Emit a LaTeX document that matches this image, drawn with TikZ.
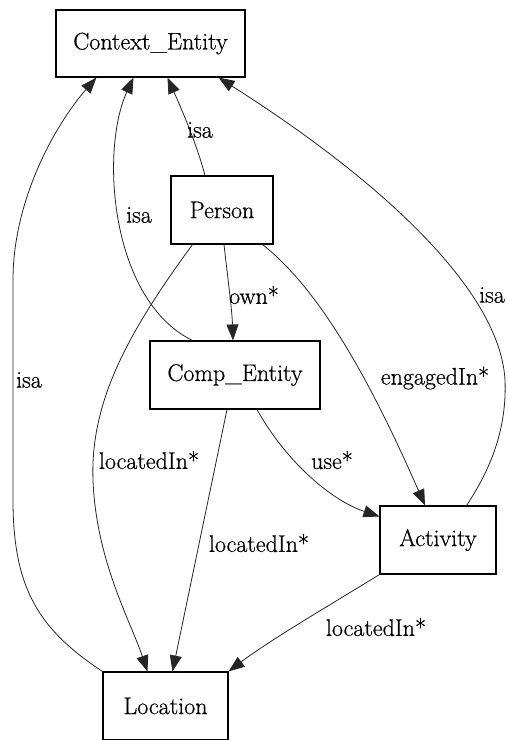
\documentclass[tikz,border=0pt]{standalone}
\usepackage{fontspec}
\setmainfont{Latin Modern Roman}[UprightFeatures={FakeBold=0.6}]
\usetikzlibrary{arrows.meta,calc}

\tikzset{
  entity/.style={draw=black, line width=1.1pt, inner sep=0pt,
    font=\fontsize{24}{29}\selectfont},
  rel/.style={draw=black!85, line width=0.8pt,
    -{Triangle[length=16pt,width=12pt]}},
  tag/.style={inner sep=0pt, font=\fontsize{24}{29}\selectfont}
}

\begin{document}
\begin{tikzpicture}[x=1pt,y=-1pt]
  \useasboundingbox[fill=white] (0,0) rectangle (507,740);

  % entities
  \node[entity, minimum width=189pt, minimum height=67pt] (ctx)  at (150.5,43.5) {Context\_Entity};
  \node[entity, minimum width=102pt, minimum height=68pt] (pers) at (222,210)   {Person};
  \node[entity, minimum width=170pt, minimum height=68pt] (comp) at (235,375)   {Comp\_Entity};
  \node[entity, minimum width=116pt, minimum height=68pt] (act)  at (438,540)   {Activity};
  \node[entity, minimum width=125pt, minimum height=68pt] (loc)  at (165.5,706) {Location};

  % isa links
  \draw[rel] ($(pers.north)+(-17,0)$) .. controls (197,145) and (182,110) .. ($(ctx.south)+(17,0)$);
  \draw[rel] ($(comp.north west)+(43,0)$) .. controls (110,300) and (100,150) .. ($(ctx.south)+(-17,0)$);
  \draw[rel] (loc.north west) .. controls (40,630) and (13,590) .. (13,500)
             -- (13,280) .. controls (13,200) and (55,125) .. ($(ctx.south west)+(41,0)$);
  \draw[rel] ($(act.north east)+(-30,0)$) .. controls (490,470) and (507,430) .. (505,380)
             .. controls (500,290) and (380,180) .. ($(ctx.south east)+(-27,0)$);

  % other relations
  \draw[rel] ($(pers.south)+(2,0)$) .. controls (228,280) and (232,310) .. ($(comp.north)+(-2,0)$);
  \draw[rel] ($(pers.south west)+(22,0)$) .. controls (130,330) and (90,400) .. (93,480)
             .. controls (96,560) and (130,620) .. ($(loc.north)+(-18,0)$);
  \draw[rel] ($(pers.south east)+(-11,0)$) .. controls (320,290) and (370,380) .. ($(act.north)+(-13,0)$);
  \draw[rel] ($(comp.south)+(-8,0)$) -- ($(loc.north)+(7,0)$);
  \draw[rel] ($(comp.south)+(22,0)$) .. controls (285,460) and (330,500) .. ($(act.north west)+(0,11)$);
  \draw[rel] (act.south west) .. controls (330,605) and (270,640) .. (loc.north east);

  % relation labels
  \node[tag] (l1)  at (200,130) {isa};
  \node[tag] (l2)  at (139,215) {isa};
  \node[tag] (l3)  at (29,380)  {isa};
  \node[tag] (l4)  at (492,295) {isa};
  \node[tag] (l5)  at (254,295) {own*};
  \node[tag] (l6)  at (435,378) {engagedIn*};
  \node[tag] (l7)  at (149,460) {locatedIn*};
  \node[tag] (l8)  at (259,543) {locatedIn*};
  \node[tag] (l9)  at (332,460) {use*};
  \node[tag] (l10) at (376,627) {locatedIn*};
\end{tikzpicture}
\end{document}
